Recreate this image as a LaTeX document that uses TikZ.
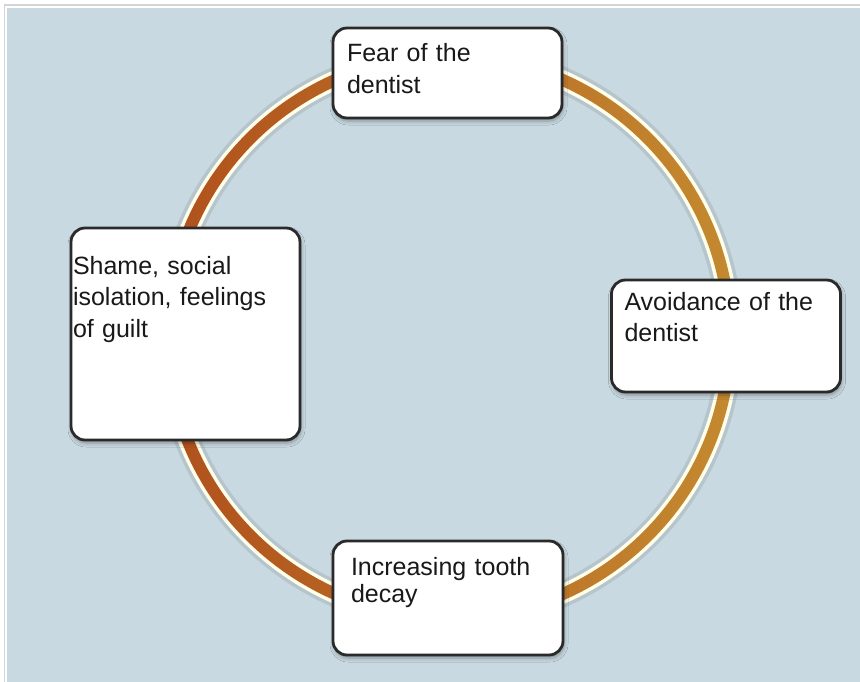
\documentclass[tikz,border=0pt]{standalone}
\usepackage{fontspec}
\setmainfont{Liberation Sans}
\usetikzlibrary{shadows.blur}

\definecolor{bgblue}{HTML}{C9D9E1}
\definecolor{framegray}{HTML}{D4D4D4}
\definecolor{rustring}{HTML}{B0501C}
\definecolor{goldring}{HTML}{C48A30}
\definecolor{boxline}{HTML}{2A2A2A}

\tikzset{
  stagebox/.style={draw=boxline, line width=2.8pt, fill=white, rounded corners=14pt,
    align=left, inner ysep=0pt, text height=34pt, text=black!90,
    font=\fontsize{25}{31.5}\selectfont,
    blur shadow={shadow xshift=1pt, shadow yshift=-3pt, shadow opacity=35, shadow blur radius=4pt}},
}

\begin{document}
\begin{tikzpicture}[x=1pt,y=-1pt]
    \useasboundingbox (0,0) rectangle (860,682);
    \fill[white] (0,0) rectangle (860,682);
    \draw[framegray, line width=1.5pt] (4.5,682) -- (4.5,5) -- (860,5);
    \fill[bgblue] (7,8) rectangle (860,682);

    % the cycle ring
    \coordinate (hub) at (449,337);
    \draw[bgblue!70!black, opacity=.3, line width=26pt] (hub) circle[radius=281];
    \draw[white!92!yellow, line width=19pt] (hub) circle[radius=281];
    \shade[left color=rustring, right color=goldring, even odd rule]
        (hub) circle[radius=287] (hub) circle[radius=275];

    \node[stagebox, text width=201pt, inner xsep=14pt, text depth=56pt] at (447.5,73) (fear) {Fear of the\\dentist};
    \node[stagebox, text width=203pt, inner xsep=13pt, text height=30pt, text depth=82pt] at (726,336) (avoid) {Avoidance of the\\dentist};
    \node[stagebox, text width=194pt, inner xsep=18pt, text depth=80pt, font=\fontsize{25}{27}\selectfont] at (448,598) (decay) {Increasing tooth\\decay};
    \node[stagebox, text width=225pt, inner xsep=2pt, text height=46pt, text depth=166pt] at (185.5,334) (shame) {Shame, social\\isolation, feelings\\of guilt};

\end{tikzpicture}
\end{document}
